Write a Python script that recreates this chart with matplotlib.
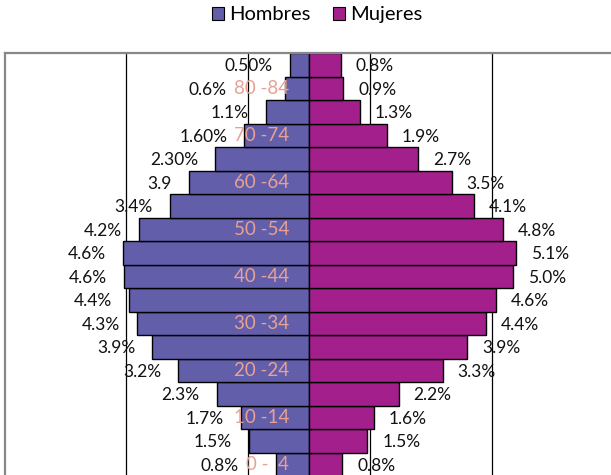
import numpy as np
import matplotlib.pyplot as plt
from matplotlib.patches import Patch

# age groups, bottom to top
groups = ['0 -  4', '5 -9', '10 -14', '15 -19', '20 -24', '25 -29', '30 -34', '35 -39',
          '40 -44', '45 -49', '50 -54', '55 -59', '60 -64', '65 -69', '70 -74', '75 -79',
          '80 -84', '85+']
hombres = [0.82, 1.48, 1.68, 2.28, 3.23, 3.86, 4.24, 4.43, 4.56, 4.58, 4.19, 3.43,
           2.96, 2.31, 1.60, 1.07, 0.59, 0.48]
mujeres = [0.81, 1.43, 1.59, 2.20, 3.29, 3.89, 4.35, 4.59, 5.03, 5.10, 4.77, 4.05,
           3.51, 2.69, 1.91, 1.25, 0.84, 0.78]
lab_h = ['0.8%', '1.5%', '1.7%', '2.3%', '3.2%', '3.9%', '4.3%', '4.4%', '4.6%', '4.6%',
         '4.2%', '3.4%', '3.9', '2.30%', '1.60%', '1.1%', '0.6%', '0.50%']
lab_m = ['0.8%', '1.5%', '1.6%', '2.2%', '3.3%', '3.9%', '4.4%', '4.6%', '5.0%', '5.1%',
         '4.8%', '4.1%', '3.5%', '2.7%', '1.9%', '1.3%', '0.9%', '0.8%']


def main():
    plt.rcParams['font.family'] = ['Lato', 'DejaVu Sans']
    c_h = '#625EAA'
    c_m = '#A3208C'
    c_cat = '#E8A194'

    fig = plt.figure(figsize=(6.11, 4.75), dpi=100)
    W, H = 611, 475
    ax = fig.add_axes([4.7 / W, (H - 476) / H, 609 / W, 423 / H])
    ax.set_xlim(-7.5, 7.5)
    ax.set_ylim(-0.5, len(groups) - 0.5)

    y = np.arange(len(groups))
    for gx in [-4.5, -1.5, 1.5, 4.5]:
        ax.axvline(gx, color='black', lw=0.9, zorder=1)

    ax.barh(y, -np.array(hombres), height=1.0, color=c_h, edgecolor='black', lw=1.0, zorder=2)
    ax.barh(y, mujeres, height=1.0, color=c_m, edgecolor='black', lw=1.0, zorder=2)

    # nudges (px) for labels that were moved by hand
    nudge = {16: -42, 0: -20}
    for i in y:
        dx = -12.2 + nudge.get(i, 0) * 0.72
        ax.annotate(lab_h[i], (-hombres[i], i), xytext=(dx, -1), textcoords='offset points',
                    ha='right', va='center', fontsize=12.5, color='#111111', zorder=3)
        ax.annotate(lab_m[i], (mujeres[i], i), xytext=(10.8, -1), textcoords='offset points',
                    ha='left', va='center', fontsize=12.5, color='#111111', zorder=3)
        if i % 2 == 0:
            ax.text(-0.5, i, groups[i], ha='right', va='center', fontsize=13.5,
                    color=c_cat, zorder=4)

    ax.set_xticks([])
    ax.set_yticks([])
    for s in ['top', 'left']:
        ax.spines[s].set_color('#888888')
        ax.spines[s].set_linewidth(1.6)
    ax.spines['right'].set_visible(False)
    ax.spines['bottom'].set_visible(False)

    handles = [Patch(facecolor=c_h, edgecolor='black', lw=0.8),
               Patch(facecolor=c_m, edgecolor='black', lw=0.8)]
    fig.legend(handles, ['Hombres', 'Mujeres'], loc='upper center',
               bbox_to_anchor=(0.519, 1.025), ncol=2, frameon=False, fontsize=14.5,
               handlelength=0.6, handleheight=0.6, handletextpad=0.25, columnspacing=1.1)

    fig.savefig('out.png', dpi=100)


if __name__ == '__main__':
    main()
